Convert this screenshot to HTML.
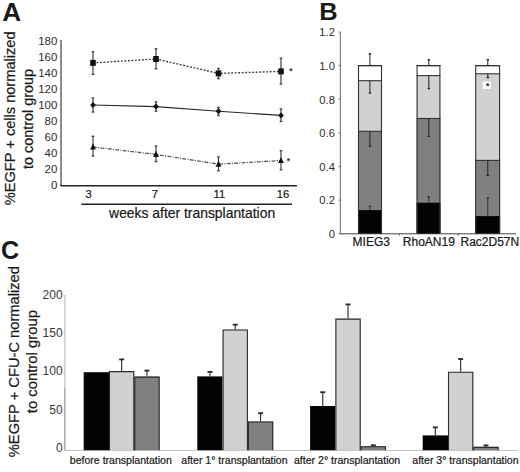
<!DOCTYPE html>
<html><head><meta charset="utf-8"><style>
html,body{margin:0;padding:0;background:#fff;}
svg{display:block;font-family:"Liberation Sans", sans-serif;}
text{stroke:#1a1a1a;stroke-width:0.22px;}
text.n{stroke:none;}
</style></head><body>
<svg width="520" height="472" viewBox="0 0 520 472">
<rect width="520" height="472" fill="#fff"/>
<text transform="translate(2.2,20.8) scale(1.05,1)" font-size="25" font-weight="bold" fill="#1a1a1a" class="n">A</text>
<text transform="translate(14.7,205.2) rotate(-90)" font-size="14.6" fill="#1a1a1a">%EGFP + cells normalized</text>
<text transform="translate(32.6,169) rotate(-90)" font-size="14.4" fill="#1a1a1a">to control group</text>
<line x1="61" y1="40" x2="61" y2="186" stroke="#333" stroke-width="1.1"/>
<line x1="59.8" y1="184.4" x2="61.5" y2="184.4" stroke="#666" stroke-width="0.9"/>
<text x="57.4" y="188.9" font-size="11.5" text-anchor="end" fill="#2e2e2e" class="n">0</text>
<line x1="59.8" y1="168.4" x2="61.5" y2="168.4" stroke="#666" stroke-width="0.9"/>
<text x="57.4" y="172.9" font-size="11.5" text-anchor="end" fill="#2e2e2e" class="n">20</text>
<line x1="59.8" y1="152.4" x2="61.5" y2="152.4" stroke="#666" stroke-width="0.9"/>
<text x="57.4" y="156.9" font-size="11.5" text-anchor="end" fill="#2e2e2e" class="n">40</text>
<line x1="59.8" y1="136.4" x2="61.5" y2="136.4" stroke="#666" stroke-width="0.9"/>
<text x="57.4" y="140.9" font-size="11.5" text-anchor="end" fill="#2e2e2e" class="n">60</text>
<line x1="59.8" y1="120.4" x2="61.5" y2="120.4" stroke="#666" stroke-width="0.9"/>
<text x="57.4" y="124.9" font-size="11.5" text-anchor="end" fill="#2e2e2e" class="n">80</text>
<line x1="59.8" y1="104.4" x2="61.5" y2="104.4" stroke="#666" stroke-width="0.9"/>
<text x="57.4" y="108.9" font-size="11.5" text-anchor="end" fill="#2e2e2e" class="n">100</text>
<line x1="59.8" y1="88.4" x2="61.5" y2="88.4" stroke="#666" stroke-width="0.9"/>
<text x="57.4" y="92.9" font-size="11.5" text-anchor="end" fill="#2e2e2e" class="n">120</text>
<line x1="59.8" y1="72.4" x2="61.5" y2="72.4" stroke="#666" stroke-width="0.9"/>
<text x="57.4" y="76.9" font-size="11.5" text-anchor="end" fill="#2e2e2e" class="n">140</text>
<line x1="59.8" y1="56.400000000000006" x2="61.5" y2="56.400000000000006" stroke="#666" stroke-width="0.9"/>
<text x="57.4" y="60.900000000000006" font-size="11.5" text-anchor="end" fill="#2e2e2e" class="n">160</text>
<line x1="59.8" y1="40.400000000000006" x2="61.5" y2="40.400000000000006" stroke="#666" stroke-width="0.9"/>
<text x="57.4" y="44.900000000000006" font-size="11.5" text-anchor="end" fill="#2e2e2e" class="n">180</text>
<line x1="60.5" y1="185.8" x2="297" y2="185.8" stroke="#222" stroke-width="1.6"/>
<line x1="81.5" y1="204.3" x2="292" y2="204.3" stroke="#222" stroke-width="1.6"/>
<text x="88.5" y="197.9" font-size="11.2" text-anchor="middle" fill="#1a1a1a">3</text>
<text x="154.8" y="197.9" font-size="11.2" text-anchor="middle" fill="#1a1a1a">7</text>
<text x="219.3" y="197.9" font-size="11.2" text-anchor="middle" fill="#1a1a1a">11</text>
<text x="283" y="197.9" font-size="11.2" text-anchor="middle" fill="#1a1a1a">16</text>
<text x="109.1" y="217.9" font-size="13.9" fill="#1a1a1a">weeks after transplantation</text>
<polyline points="93,62.9 156,59 218.5,73.4 281,71.4" fill="none" stroke="#3a3a3a" stroke-width="1.35" stroke-dasharray="1.9 1.6"/>
<polyline points="93,105 156,106.6 218.5,111.2 281,115.4" fill="none" stroke="#2a2a2a" stroke-width="1.15"/>
<polyline points="93,147 156,154.4 218.5,164.2 281,160.5" fill="none" stroke="#5a5a5a" stroke-width="1.3" stroke-dasharray="3.8 1.3 1.1 1.3"/>
<line x1="93" y1="51.8" x2="93" y2="74.3" stroke="#444" stroke-width="1.2"/>
<rect x="91.7" y="51.099999999999994" width="2.6" height="1.4" fill="#444"/>
<rect x="91.7" y="73.6" width="2.6" height="1.4" fill="#444"/>
<line x1="156" y1="48.8" x2="156" y2="68.8" stroke="#444" stroke-width="1.2"/>
<rect x="154.7" y="48.099999999999994" width="2.6" height="1.4" fill="#444"/>
<rect x="154.7" y="68.1" width="2.6" height="1.4" fill="#444"/>
<line x1="218.5" y1="68.5" x2="218.5" y2="78.6" stroke="#444" stroke-width="1.2"/>
<rect x="217.2" y="67.8" width="2.6" height="1.4" fill="#444"/>
<rect x="217.2" y="77.89999999999999" width="2.6" height="1.4" fill="#444"/>
<line x1="281" y1="58.3" x2="281" y2="84" stroke="#444" stroke-width="1.2"/>
<rect x="279.7" y="57.599999999999994" width="2.6" height="1.4" fill="#444"/>
<rect x="279.7" y="83.3" width="2.6" height="1.4" fill="#444"/>
<line x1="93" y1="98" x2="93" y2="112" stroke="#444" stroke-width="1.2"/>
<rect x="91.7" y="97.3" width="2.6" height="1.4" fill="#444"/>
<rect x="91.7" y="111.3" width="2.6" height="1.4" fill="#444"/>
<line x1="156" y1="101.9" x2="156" y2="111.2" stroke="#444" stroke-width="1.2"/>
<rect x="154.7" y="101.2" width="2.6" height="1.4" fill="#444"/>
<rect x="154.7" y="110.5" width="2.6" height="1.4" fill="#444"/>
<line x1="218.5" y1="107.3" x2="218.5" y2="115.5" stroke="#444" stroke-width="1.2"/>
<rect x="217.2" y="106.6" width="2.6" height="1.4" fill="#444"/>
<rect x="217.2" y="114.8" width="2.6" height="1.4" fill="#444"/>
<line x1="281" y1="109" x2="281" y2="121.5" stroke="#444" stroke-width="1.2"/>
<rect x="279.7" y="108.3" width="2.6" height="1.4" fill="#444"/>
<rect x="279.7" y="120.8" width="2.6" height="1.4" fill="#444"/>
<line x1="93" y1="136.3" x2="93" y2="156" stroke="#444" stroke-width="1.2"/>
<rect x="91.7" y="135.60000000000002" width="2.6" height="1.4" fill="#444"/>
<rect x="91.7" y="155.3" width="2.6" height="1.4" fill="#444"/>
<line x1="156" y1="146" x2="156" y2="161.7" stroke="#444" stroke-width="1.2"/>
<rect x="154.7" y="145.3" width="2.6" height="1.4" fill="#444"/>
<rect x="154.7" y="161.0" width="2.6" height="1.4" fill="#444"/>
<line x1="218.5" y1="157" x2="218.5" y2="170.7" stroke="#444" stroke-width="1.2"/>
<rect x="217.2" y="156.3" width="2.6" height="1.4" fill="#444"/>
<rect x="217.2" y="170.0" width="2.6" height="1.4" fill="#444"/>
<line x1="281" y1="150.7" x2="281" y2="169.7" stroke="#444" stroke-width="1.2"/>
<rect x="279.7" y="150.0" width="2.6" height="1.4" fill="#444"/>
<rect x="279.7" y="169.0" width="2.6" height="1.4" fill="#444"/>
<rect x="90.2" y="59.9" width="5.6" height="6" fill="#111"/>
<rect x="153.2" y="56" width="5.6" height="6" fill="#111"/>
<rect x="215.7" y="70.4" width="5.6" height="6" fill="#111"/>
<rect x="278.2" y="68.4" width="5.6" height="6" fill="#111"/>
<polygon points="93,101.9 95.9,105 93,108.1 90.1,105" fill="#111"/>
<polygon points="156,103.5 158.9,106.6 156,109.69999999999999 153.1,106.6" fill="#111"/>
<polygon points="218.5,108.10000000000001 221.4,111.2 218.5,114.3 215.6,111.2" fill="#111"/>
<polygon points="281,112.30000000000001 283.9,115.4 281,118.5 278.1,115.4" fill="#111"/>
<polygon points="93,143.4 95.9,149.6 90.1,149.6" fill="#111"/>
<polygon points="156,150.8 158.9,157.0 153.1,157.0" fill="#111"/>
<polygon points="218.5,160.6 221.4,166.79999999999998 215.6,166.79999999999998" fill="#111"/>
<polygon points="281,156.9 283.9,163.1 278.1,163.1" fill="#111"/>
<text x="290.8" y="74.2" font-size="8.5" font-weight="bold" text-anchor="middle" fill="#333" class="n">*</text>
<text x="288.3" y="163.7" font-size="8.5" font-weight="bold" text-anchor="middle" fill="#333" class="n">*</text>
<text transform="translate(319.2,20.4) scale(1.08,1)" font-size="23.6" font-weight="bold" fill="#1a1a1a" class="n">B</text>
<line x1="340.3" y1="32" x2="340.3" y2="234" stroke="#666" stroke-width="1"/>
<line x1="340" y1="233.8" x2="516" y2="233.8" stroke="#444" stroke-width="1"/>
<line x1="338.6" y1="233.7" x2="340.4" y2="233.7" stroke="#666" stroke-width="0.9"/>
<text x="334.9" y="238.0" font-size="11.2" text-anchor="end" fill="#2e2e2e" class="n">0</text>
<line x1="338.6" y1="200.07999999999998" x2="340.4" y2="200.07999999999998" stroke="#666" stroke-width="0.9"/>
<text x="334.9" y="204.38" font-size="11.2" text-anchor="end" fill="#2e2e2e" class="n">0.2</text>
<line x1="338.6" y1="166.45999999999998" x2="340.4" y2="166.45999999999998" stroke="#666" stroke-width="0.9"/>
<text x="334.9" y="170.76" font-size="11.2" text-anchor="end" fill="#2e2e2e" class="n">0.4</text>
<line x1="338.6" y1="132.83999999999997" x2="340.4" y2="132.83999999999997" stroke="#666" stroke-width="0.9"/>
<text x="334.9" y="137.14" font-size="11.2" text-anchor="end" fill="#2e2e2e" class="n">0.6</text>
<line x1="338.6" y1="99.22" x2="340.4" y2="99.22" stroke="#666" stroke-width="0.9"/>
<text x="334.9" y="103.52" font-size="11.2" text-anchor="end" fill="#2e2e2e" class="n">0.8</text>
<line x1="338.6" y1="65.6" x2="340.4" y2="65.6" stroke="#666" stroke-width="0.9"/>
<text x="334.9" y="69.89999999999999" font-size="11.2" text-anchor="end" fill="#2e2e2e" class="n">1.0</text>
<line x1="338.6" y1="31.97999999999999" x2="340.4" y2="31.97999999999999" stroke="#666" stroke-width="0.9"/>
<text x="334.9" y="36.27999999999999" font-size="11.2" text-anchor="end" fill="#2e2e2e" class="n">1.2</text>
<line x1="399.3" y1="233.7" x2="399.3" y2="235.6" stroke="#555" stroke-width="0.9"/>
<line x1="458.3" y1="233.7" x2="458.3" y2="235.6" stroke="#555" stroke-width="0.9"/>
<rect x="358" y="65.6" width="24" height="168.1" fill="#fff"/>
<rect x="358" y="80.7" width="24" height="153.0" fill="#d1d1d1"/>
<rect x="358" y="131.3" width="24" height="102.39999999999998" fill="#808080"/>
<rect x="358" y="210.1" width="24" height="23.599999999999994" fill="#030303"/>
<line x1="358" y1="131.3" x2="382" y2="131.3" stroke="#333" stroke-width="1.1"/>
<line x1="358" y1="80.7" x2="382" y2="80.7" stroke="#333" stroke-width="1.1"/>
<line x1="358" y1="65.6" x2="382" y2="65.6" stroke="#333" stroke-width="1.1"/>
<path d="M358.5,233.7 V65.6 H381.5 V233.7" fill="none" stroke="#333" stroke-width="1.1" stroke-linejoin="miter"/>
<line x1="369.9" y1="65.6" x2="369.9" y2="53.8" stroke="#222" stroke-width="1"/>
<rect x="368.7" y="53.099999999999994" width="2.4" height="1.4" fill="#222"/>
<line x1="369.9" y1="80.7" x2="369.9" y2="93" stroke="#222" stroke-width="1"/>
<rect x="368.7" y="92.3" width="2.4" height="1.4" fill="#222"/>
<line x1="369.9" y1="131.3" x2="369.9" y2="146.2" stroke="#222" stroke-width="1"/>
<rect x="368.7" y="145.5" width="2.4" height="1.4" fill="#222"/>
<line x1="369.9" y1="210.1" x2="369.9" y2="206.4" stroke="#333" stroke-width="1"/>
<rect x="368.7" y="205.70000000000002" width="2.4" height="1.4" fill="#333"/>
<rect x="416.6" y="65.6" width="23.799999999999955" height="168.1" fill="#fff"/>
<rect x="416.6" y="75.6" width="23.799999999999955" height="158.1" fill="#d1d1d1"/>
<rect x="416.6" y="118.5" width="23.799999999999955" height="115.19999999999999" fill="#808080"/>
<rect x="416.6" y="202.7" width="23.799999999999955" height="31.0" fill="#030303"/>
<line x1="416.6" y1="118.5" x2="440.4" y2="118.5" stroke="#333" stroke-width="1.1"/>
<line x1="416.6" y1="75.6" x2="440.4" y2="75.6" stroke="#333" stroke-width="1.1"/>
<line x1="416.6" y1="65.6" x2="440.4" y2="65.6" stroke="#333" stroke-width="1.1"/>
<path d="M417.1,233.7 V65.6 H439.9 V233.7" fill="none" stroke="#333" stroke-width="1.1" stroke-linejoin="miter"/>
<line x1="428.8" y1="65.6" x2="428.8" y2="59.8" stroke="#222" stroke-width="1"/>
<rect x="427.6" y="59.099999999999994" width="2.4" height="1.4" fill="#222"/>
<line x1="428.8" y1="75.6" x2="428.8" y2="88.6" stroke="#222" stroke-width="1"/>
<rect x="427.6" y="87.89999999999999" width="2.4" height="1.4" fill="#222"/>
<line x1="428.8" y1="118.5" x2="428.8" y2="136.4" stroke="#222" stroke-width="1"/>
<rect x="427.6" y="135.70000000000002" width="2.4" height="1.4" fill="#222"/>
<line x1="428.8" y1="202.7" x2="428.8" y2="196.8" stroke="#333" stroke-width="1"/>
<rect x="427.6" y="196.10000000000002" width="2.4" height="1.4" fill="#333"/>
<rect x="475.2" y="65.6" width="24.900000000000034" height="168.1" fill="#fff"/>
<rect x="475.2" y="73.8" width="24.900000000000034" height="159.89999999999998" fill="#d1d1d1"/>
<rect x="475.2" y="160.4" width="24.900000000000034" height="73.29999999999998" fill="#808080"/>
<rect x="475.2" y="216.1" width="24.900000000000034" height="17.599999999999994" fill="#030303"/>
<line x1="475.2" y1="160.4" x2="500.1" y2="160.4" stroke="#333" stroke-width="1.1"/>
<line x1="475.2" y1="73.8" x2="500.1" y2="73.8" stroke="#333" stroke-width="1.1"/>
<line x1="475.2" y1="65.6" x2="500.1" y2="65.6" stroke="#333" stroke-width="1.1"/>
<path d="M475.7,233.7 V65.6 H499.6 V233.7" fill="none" stroke="#333" stroke-width="1.1" stroke-linejoin="miter"/>
<line x1="487.8" y1="65.6" x2="487.8" y2="59.7" stroke="#222" stroke-width="1"/>
<rect x="486.6" y="59.0" width="2.4" height="1.4" fill="#222"/>
<line x1="487.8" y1="73.8" x2="487.8" y2="77.5" stroke="#222" stroke-width="1"/>
<rect x="486.6" y="76.8" width="2.4" height="1.4" fill="#222"/>
<line x1="487.8" y1="160.4" x2="487.8" y2="175.5" stroke="#222" stroke-width="1"/>
<rect x="486.6" y="174.8" width="2.4" height="1.4" fill="#222"/>
<line x1="487.8" y1="216.1" x2="487.8" y2="198" stroke="#333" stroke-width="1"/>
<rect x="486.6" y="197.3" width="2.4" height="1.4" fill="#333"/>
<rect x="482.8" y="81.4" width="8" height="7.4" fill="#fff"/>
<text x="487.6" y="89.2" font-size="8.5" font-weight="bold" text-anchor="middle" fill="#1a1a1a" class="n">*</text>
<text x="352.6" y="245.6" font-size="12" fill="#1a1a1a">MIEG3</text>
<text x="402.8" y="245.6" font-size="12" fill="#1a1a1a">RhoAN19</text>
<text x="460.5" y="245.6" font-size="12" fill="#1a1a1a">Rac2D57N</text>
<text transform="translate(1.1,258.7)" font-size="25.2" font-weight="bold" fill="#1a1a1a" class="n">C</text>
<text transform="translate(18.9,457.2) rotate(-90)" font-size="14.7" fill="#1a1a1a">%EGFP + CFU-C normalized</text>
<text transform="translate(36.6,413.2) rotate(-90)" font-size="14.85" fill="#1a1a1a">to control group</text>
<line x1="64.9" y1="295" x2="64.9" y2="388" stroke="#c2c2c2" stroke-width="1.3"/>
<line x1="64.9" y1="388" x2="64.9" y2="450.5" stroke="#9a9a9a" stroke-width="1.3"/>
<line x1="64.5" y1="450.5" x2="518" y2="450.5" stroke="#c4c4c4" stroke-width="1"/>
<text x="62.6" y="299.1" font-size="12" text-anchor="end" fill="#3a3a3a" class="n">200</text>
<line x1="63.6" y1="295.90000000000003" x2="64.9" y2="295.90000000000003" stroke="#bbb" stroke-width="0.9"/>
<text x="62.6" y="337.0" font-size="12" text-anchor="end" fill="#3a3a3a" class="n">150</text>
<line x1="63.6" y1="333.8" x2="64.9" y2="333.8" stroke="#bbb" stroke-width="0.9"/>
<text x="62.6" y="375.2" font-size="12" text-anchor="end" fill="#3a3a3a" class="n">100</text>
<line x1="63.6" y1="372.0" x2="64.9" y2="372.0" stroke="#bbb" stroke-width="0.9"/>
<text x="62.6" y="413.6" font-size="12" text-anchor="end" fill="#3a3a3a" class="n">50</text>
<line x1="63.6" y1="410.40000000000003" x2="64.9" y2="410.40000000000003" stroke="#bbb" stroke-width="0.9"/>
<text x="62.6" y="452.0" font-size="12" text-anchor="end" fill="#3a3a3a" class="n">0</text>
<line x1="63.6" y1="448.8" x2="64.9" y2="448.8" stroke="#bbb" stroke-width="0.9"/>
<line x1="121.65" y1="371.1" x2="121.65" y2="359.4" stroke="#2a2a2a" stroke-width="1.1"/>
<rect x="119.15" y="358.5" width="5" height="1.8" fill="#2a2a2a"/>
<line x1="146.95000000000002" y1="376.6" x2="146.95000000000002" y2="370.59999999999997" stroke="#2a2a2a" stroke-width="1.1"/>
<rect x="144.45000000000002" y="369.7" width="5" height="1.8" fill="#2a2a2a"/>
<rect x="83.7" y="372.2" width="25.3" height="78.0" fill="#030303"/>
<rect x="109.0" y="371.1" width="25.3" height="79.09999999999997" fill="#d1d1d1"/>
<rect x="134.3" y="376.6" width="25.3" height="73.59999999999997" fill="#808080"/>
<path d="M109.5,450.2 V371.6 H133.8 V450.2" fill="none" stroke="#2a2a2a" stroke-width="1.1" stroke-linejoin="miter"/>
<path d="M134.8,450.2 V377.1 H159.10000000000002 V450.2" fill="none" stroke="#2a2a2a" stroke-width="1.1" stroke-linejoin="miter"/>
<line x1="209.95000000000002" y1="376.4" x2="209.95000000000002" y2="371.9" stroke="#2a2a2a" stroke-width="1.1"/>
<rect x="207.45000000000002" y="371.0" width="5" height="1.8" fill="#2a2a2a"/>
<line x1="235.25000000000003" y1="329.5" x2="235.25000000000003" y2="324.7" stroke="#2a2a2a" stroke-width="1.1"/>
<rect x="232.75000000000003" y="323.8" width="5" height="1.8" fill="#2a2a2a"/>
<line x1="260.55" y1="421.5" x2="260.55" y2="413.2" stroke="#2a2a2a" stroke-width="1.1"/>
<rect x="258.05" y="412.3" width="5" height="1.8" fill="#2a2a2a"/>
<rect x="197.3" y="376.4" width="25.3" height="73.80000000000001" fill="#030303"/>
<rect x="222.60000000000002" y="329.5" width="25.3" height="120.69999999999999" fill="#d1d1d1"/>
<rect x="247.9" y="421.5" width="25.3" height="28.69999999999999" fill="#808080"/>
<path d="M223.10000000000002,450.2 V330.0 H247.40000000000003 V450.2" fill="none" stroke="#2a2a2a" stroke-width="1.1" stroke-linejoin="miter"/>
<path d="M248.4,450.2 V422.0 H272.7 V450.2" fill="none" stroke="#2a2a2a" stroke-width="1.1" stroke-linejoin="miter"/>
<line x1="322.75" y1="406" x2="322.75" y2="392.2" stroke="#2a2a2a" stroke-width="1.1"/>
<rect x="320.25" y="391.3" width="5" height="1.8" fill="#2a2a2a"/>
<line x1="348.05" y1="318.6" x2="348.05" y2="304.4" stroke="#2a2a2a" stroke-width="1.1"/>
<rect x="345.55" y="303.5" width="5" height="1.8" fill="#2a2a2a"/>
<line x1="373.35" y1="446.3" x2="373.35" y2="445.29999999999995" stroke="#2a2a2a" stroke-width="1.1"/>
<rect x="370.85" y="444.4" width="5" height="1.8" fill="#2a2a2a"/>
<rect x="310.1" y="406" width="25.3" height="44.19999999999999" fill="#030303"/>
<rect x="335.40000000000003" y="318.6" width="25.3" height="131.59999999999997" fill="#d1d1d1"/>
<rect x="360.70000000000005" y="446.3" width="25.3" height="3.8999999999999773" fill="#808080"/>
<path d="M335.90000000000003,450.2 V319.1 H360.20000000000005 V450.2" fill="none" stroke="#2a2a2a" stroke-width="1.1" stroke-linejoin="miter"/>
<path d="M361.20000000000005,450.2 V446.8 H385.50000000000006 V450.2" fill="none" stroke="#2a2a2a" stroke-width="1.1" stroke-linejoin="miter"/>
<line x1="435.34999999999997" y1="435.4" x2="435.34999999999997" y2="427.4" stroke="#2a2a2a" stroke-width="1.1"/>
<rect x="432.84999999999997" y="426.5" width="5" height="1.8" fill="#2a2a2a"/>
<line x1="460.65" y1="371.8" x2="460.65" y2="359.0" stroke="#2a2a2a" stroke-width="1.1"/>
<rect x="458.15" y="358.1" width="5" height="1.8" fill="#2a2a2a"/>
<line x1="485.95" y1="446.9" x2="485.95" y2="445.4" stroke="#2a2a2a" stroke-width="1.1"/>
<rect x="483.45" y="444.5" width="5" height="1.8" fill="#2a2a2a"/>
<rect x="422.7" y="435.4" width="25.3" height="14.800000000000011" fill="#030303"/>
<rect x="448.0" y="371.8" width="25.3" height="78.39999999999998" fill="#d1d1d1"/>
<rect x="473.3" y="446.9" width="25.3" height="3.3000000000000114" fill="#808080"/>
<path d="M448.5,450.2 V372.3 H472.8 V450.2" fill="none" stroke="#2a2a2a" stroke-width="1.1" stroke-linejoin="miter"/>
<path d="M473.8,450.2 V447.4 H498.1 V450.2" fill="none" stroke="#2a2a2a" stroke-width="1.1" stroke-linejoin="miter"/>
<text x="69.8" y="463.9" font-size="10.55" fill="#1a1a1a">before transplantation</text>
<text x="181.3" y="463.9" font-size="10.55" fill="#1a1a1a">after 1° transplantation</text>
<text x="294" y="463.9" font-size="10.55" fill="#1a1a1a">after 2° transplantation</text>
<text x="412.3" y="463.9" font-size="10.55" fill="#1a1a1a">after 3° transplantation</text>
</svg>
</body></html>
